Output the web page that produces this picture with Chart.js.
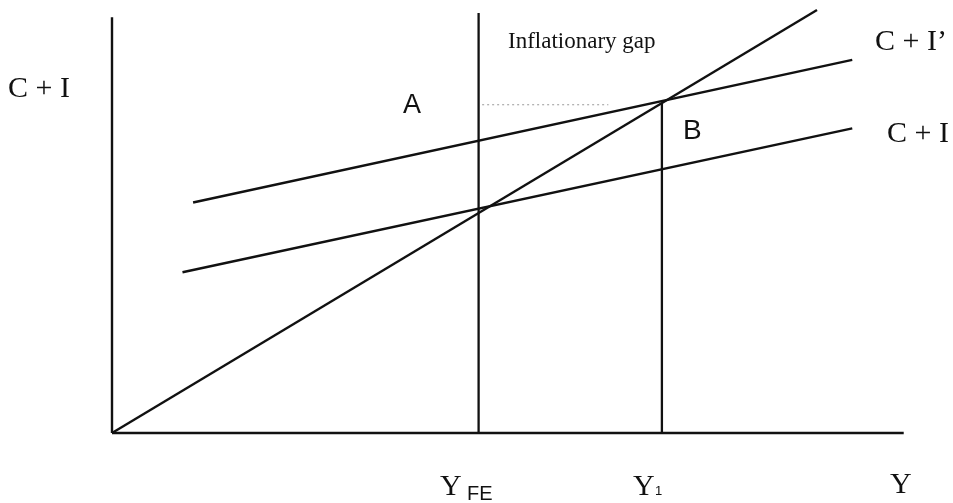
<!DOCTYPE html>
<html>
<head>
<meta charset="utf-8">
<script src="https://cdn.jsdelivr.net/npm/chart.js@4.4.1/dist/chart.umd.min.js"></script>
<style>
  html, body { margin: 0; padding: 0; background: #fff; }
  #wrap { width: 953px; height: 503px; position: relative; }
</style>
</head>
<body>
<div id="wrap"><canvas id="c" width="953" height="503"></canvas></div>
<script>
// ---- Data (income Y on x, spending C+I on y, same units) ----
const yFE = 52;            // full-employment income
const y1 = 78;             // equilibrium income with C + I'
const diagonalX = [0, 100];
const diagonalY = [0, 100];
const ciX = [10, 105];
const ciY = [38, 72];
const ciPrimeX = [11.5, 105];
const ciPrimeY = [54.5, 88.2];
const yFELineY = [0, 99.3];
const y1LineY = [0, 78];
const gapX = [52.5, 70.4];
const gapY = [77.6, 77.6];
const yAxisTop = 98.3;
const xAxisEnd = 112.3;

const labels = {
  yAxis: 'C + I',
  ciPrime: 'C + I\u2019',
  ci: 'C + I',
  gap: 'Inflationary gap',
  a: 'A',
  b: 'B',
  yFE: ['Y', 'FE'],
  y1: ['Y', '1'],
  y: 'Y'
};

function pts(xs, ys) { return xs.map((x, i) => ({ x: x, y: ys[i] })); }

const black = '#111';
const line = (data, w, extra) => Object.assign({
  data: data, showLine: true, borderColor: black, borderWidth: w,
  pointRadius: 0, fill: false, tension: 0, borderCapStyle: 'butt', clip: false
}, extra || {});

const datasets = [
  line(pts([0, 0], [0, yAxisTop]), 2.4),
  line(pts([0, xAxisEnd], [0, 0]), 2.6),
  line(pts(diagonalX, diagonalY), 2.4),
  line(pts(ciPrimeX, ciPrimeY), 2.4),
  line(pts(ciX, ciY), 2.4),
  line(pts([yFE, yFE], yFELineY), 2.3),
  line(pts([y1, y1], y1LineY), 2.3),
  line(pts(gapX, gapY), 1.2, { borderColor: '#999', borderDash: [2, 3] })
];

const textPlugin = {
  id: 'texts',
  afterDatasetsDraw(chart) {
    const ctx = chart.ctx;
    ctx.save();
    ctx.fillStyle = black;
    ctx.textBaseline = 'alphabetic';
    ctx.textAlign = 'left';
    const serif = '"Liberation Serif", "Times New Roman", serif';
    const sans = '"Liberation Sans", Arial, sans-serif';
    function t(str, x, y, size, fam) {
      ctx.font = size + 'px ' + fam;
      ctx.fillText(str, x, y);
    }
    t(labels.yAxis, 8, 97, 30, serif);
    t(labels.ciPrime, 875, 50, 30, serif);
    t(labels.ci, 887, 142, 30, serif);
    t(labels.gap, 508, 48, 23, serif);
    t(labels.a, 403, 113, 27, sans);
    t(labels.b, 683, 139, 28, sans);
    t(labels.yFE[0], 440, 495, 30, serif);
    t(labels.yFE[1], 467, 500, 20, sans);
    t(labels.y1[0], 633, 495, 30, serif);
    t(labels.y1[1], 655, 495, 13, sans);
    t(labels.y, 890, 493, 30, serif);
    ctx.restore();
  }
};

new Chart(document.getElementById('c'), {
  type: 'scatter',
  data: { datasets: datasets },
  options: {
    responsive: false,
    animation: false,
    layout: { padding: { left: 112, right: 1, top: 0, bottom: 70 } },
    plugins: { legend: { display: false }, tooltip: { enabled: false } },
    scales: {
      x: { type: 'linear', display: false, min: 0, max: 840 / 7.05 },
      y: { type: 'linear', display: false, min: 0, max: 433 / 4.23 }
    }
  },
  plugins: [textPlugin]
});
</script>
</body>
</html>
